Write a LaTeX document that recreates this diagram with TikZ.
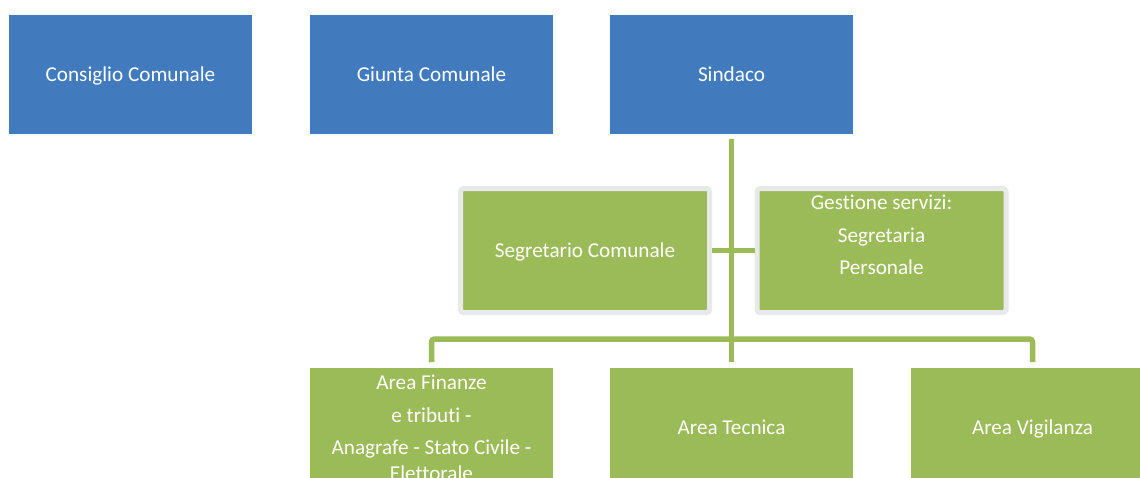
\documentclass[tikz,border=0pt]{standalone}
\usepackage{fontspec}
\setmainfont[Ligatures=NoCommon]{Carlito}
\definecolor{boxblue}{HTML}{417BBD}
\definecolor{boxgreen}{HTML}{9BBB59}
\definecolor{framegray}{HTML}{E8E9EB}
\begin{document}
\begin{tikzpicture}[x=1pt,y=-1pt,
  txt/.style={inner sep=0pt, outer sep=0pt, align=center, text=white,
    font=\fontsize{21.2pt}{32.5pt}\selectfont},
  one/.style={txt, text height=14.5pt, text depth=0pt},
  base/.style={rectangle, inner sep=0pt, outer sep=0pt, minimum width=243pt, minimum height=119pt},
  bluebox/.style={base, fill=boxblue},
  greenbox/.style={base, fill=boxgreen},
  framedbox/.style={base, fill=boxgreen, draw=framegray, line width=5pt, rounded corners=3pt,
    minimum width=249pt, minimum height=124pt, outer sep=2.5pt},
  link/.style={draw=boxgreen, line width=5.5pt}
]
\useasboundingbox (0,0) rectangle (1140,477);
\clip (0,0) rectangle (1140,477);
\fill[white] (0,0) rectangle (1140,477);

\node[bluebox] (consiglio) at (130.5,74.5) {};
\node[one] (consigliot) at (consiglio.center) {Consiglio Comunale};
\node[bluebox] (giunta) at (431.5,74.5) {};
\node[one] (giuntat) at (giunta.center) {Giunta Comunale};
\node[bluebox] (sindaco) at (731.5,74.5) {};
\node[one] (sindacot) at (sindaco.center) {Sindaco};

\node[framedbox] (segretario) at (585,250.5) {};
\node[one] (segretariot) at (segretario.center) {Segretario Comunale};
\node[framedbox] (gestione) at (881.5,250.5) {};
\node[txt] (gestionet) at (881.5,256) {Gestione servizi:\\Segretaria\\Personale\\\strut};

\node[greenbox] (finanze) at (431.5,427.5) {};
\node[txt] (finanzet) at (431.5,428) {Area Finanze\\e tributi -\\Anagrafe - Stato Civile -\\[-7pt]Elettorale};
\node[greenbox] (tecnica) at (731.5,427.5) {};
\node[one] (tecnicat) at (tecnica.center) {Area Tecnica};
\node[greenbox] (vigilanza) at (1032.5,427.5) {};
\node[one] (vigilanzat) at (vigilanza.center) {Area Vigilanza};

\coordinate (top) at ([yshift=-5pt]sindaco.south);
\draw[link] (top) -- ([yshift=6pt]tecnica.north);
\draw[link] (segretario.east) -- (gestione.west);
\draw[link, rounded corners=3pt] ([yshift=6pt]finanze.north) |- (731.5,339) -| ([yshift=6pt]vigilanza.north);
\end{tikzpicture}
\end{document}
